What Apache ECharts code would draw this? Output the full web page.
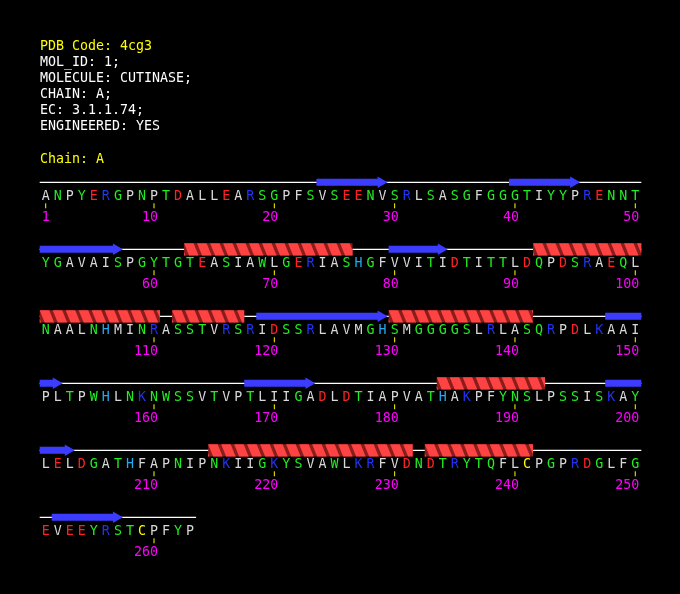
<!DOCTYPE html>
<html>
<head>
<meta charset="utf-8">
<script src="https://cdn.jsdelivr.net/npm/echarts@6/dist/echarts.min.js"></script>
<style>html,body{margin:0;padding:0;background:#000;}#c{width:680px;height:594px;}</style>
</head>
<body>
<div id="c"></div>
<script>
// ---- data ----
const headerLines = ["PDB Code: 4cg3", "MOL_ID: 1;", "MOLECULE: CUTINASE;", "CHAIN: A;", "EC: 3.1.1.74;", "ENGINEERED: YES", "", "Chain: A"];
const sequence = "ANPYERGPNPTDALLEARSGPFSVSEENVSRLSASGFGGGTIYYPRENNT" +
                 "YGAVAISPGYTGTEASIAWLGERIASHGFVVITIDTITTLDQPDSRAEQL" +
                 "NAALNHMINRASSTVRSRIDSSRLAVMGHSMGGGGSLRLASQRPDLKAAI" +
                 "PLTPWHLNKNWSSVTVPTLIIGADLDTIAPVATHAKPFYNSLPSSISKAY" +
                 "LELDGATHFAPNIPNKIIGKYSVAWLKRFVDNDTRYTQFLCPGPRDGLFG" +
                 "EVEEYRSTCPFYP";
const helices = [[63,76],[92,110],[112,117],[130,141],[184,192],[215,231],[233,241]];
const strands = [[24,29],[40,45],[51,57],[80,84],[119,129],[148,152],[168,173],[198,203],[252,257]];
const perRow = 50;

// ---- styles ----
const FONT = '13.3px "DejaVu Sans Mono", monospace';
const colorOf = ch => {
  if ('DE'.includes(ch)) return '#ff2222';
  if ('RK'.includes(ch)) return '#2233ee';
  if (ch === 'H') return '#22aaee';
  if (ch === 'C') return '#ffff00';
  if ('GSTNQYW'.includes(ch)) return '#22ee22';
  return '#d8d8d8';
};

const N = sequence.length;
const nRows = Math.ceil(N / perRow);
function splitByRow(s, e) {
  const segs = [];
  for (let r = 0; r < nRows; r++) {
    const rs = r * perRow + 1, re = Math.min(r * perRow + perRow, N);
    const a = Math.max(s, rs), b = Math.min(e, re);
    if (a <= b) segs.push([a - r * perRow, b - r * perRow, r, b === e ? 1 : 0]);
  }
  return segs;
}
const coilData = [];
for (let r = 0; r < nRows; r++) coilData.push([1, r, Math.min(perRow, N - r * perRow)]);
const strandData = [], helixData = [];
strands.forEach(([s, e]) => splitByRow(s, e).forEach(g => strandData.push([g[0], g[2], g[1], g[3]])));
helices.forEach(([s, e]) => splitByRow(s, e).forEach(g => helixData.push([g[0], g[2], g[1]])));
const resData = [];
for (let i = 0; i < N; i++) resData.push([(i % perRow) + 1, Math.floor(i / perRow), i]);

function clipPoly(pts, xmin, xmax) {
  function clip(p, inside, inter) {
    const out = [];
    for (let i = 0; i < p.length; i++) {
      const A = p[i], B = p[(i + 1) % p.length];
      const ai = inside(A), bi = inside(B);
      if (ai) out.push(A);
      if (ai !== bi) out.push(inter(A, B));
    }
    return out;
  }
  const ix = x => (A, B) => [x, A[1] + (B[1] - A[1]) * (x - A[0]) / (B[0] - A[0])];
  let p = clip(pts, q => q[0] >= xmin, ix(xmin));
  if (p.length) p = clip(p, q => q[0] <= xmax, ix(xmax));
  return p;
}

const chart = echarts.init(document.getElementById('c'), null, {renderer: 'canvas'});
const option = {
  backgroundColor: '#000000',
  animation: false,
  grid: {left: 39.7, right: 38.7, top: 182.3, bottom: 76.7},
  xAxis: {type: 'value', min: 0.5, max: perRow + 0.5, show: false},
  yAxis: {type: 'value', min: 0, max: nRows - 1, inverse: true, show: false},
  graphic: headerLines.map((t, i) => ({
    type: 'text', left: 40, top: 48 + i * 16.1 - 8, silent: true,
    style: {text: t, fill: (i === 0 || i === headerLines.length - 1) ? '#ffff00' : '#ffffff', font: FONT}
  })),
  series: [
    { // coil line
      type: 'custom', silent: true, clip: false, data: coilData, encode: {x: 0, y: 1},
      renderItem: (p, api) => {
        const a = api.coord([api.value(0) - 0.5, api.value(1)]);
        const b = api.coord([api.value(2) + 0.5, api.value(1)]);
        return {type: 'line', shape: {x1: a[0], y1: a[1], x2: b[0], y2: b[1]}, style: {stroke: '#ffffff', lineWidth: 1.3}};
      }
    },
    { // strands
      type: 'custom', silent: true, clip: false, data: strandData, encode: {x: 0, y: 1},
      renderItem: (p, api) => {
        const a = api.coord([api.value(0) - 0.5, api.value(1)]);
        const b = api.coord([api.value(2) + 0.5, api.value(1)]);
        const y = a[1], x0 = a[0];
        let pts;
        if (api.value(3)) {
          const x1 = b[0] - 1, h = x1 - 10;
          pts = [[x0, y - 3.5], [h, y - 3.5], [h, y - 5.8], [x1, y], [h, y + 5.8], [h, y + 3.5], [x0, y + 3.5]];
        } else {
          const x1 = b[0];
          pts = [[x0, y - 3.5], [x1, y - 3.5], [x1, y + 3.5], [x0, y + 3.5]];
        }
        return {type: 'polygon', shape: {points: pts}, style: {fill: '#3c3cff'}};
      }
    },
    { // helices
      type: 'custom', silent: true, clip: false, data: helixData, encode: {x: 0, y: 1},
      renderItem: (p, api) => {
        const a = api.coord([api.value(0) - 0.5, api.value(1)]);
        const b = api.coord([api.value(2) + 0.5, api.value(1)]);
        const y = a[1], xs = a[0], xe = b[0], top = y - 6, bot = y + 6.3;
        const children = [{type: 'rect', shape: {x: xs, y: top, width: xe - xs, height: bot - top}, style: {fill: '#8a1c1c'}}];
        const period = 13, w = 9.5, slant = 5;
        for (let x = xs - period; x < xe + period; x += period) {
          const poly = clipPoly([[x, top], [x + w, top], [x + w + slant, bot], [x + slant, bot]], xs, xe);
          if (poly.length >= 3) children.push({type: 'polygon', shape: {points: poly}, style: {fill: '#ff4242'}});
        }
        return {type: 'group', children};
      }
    },
    { // residues, ticks, numbers
      type: 'custom', silent: true, clip: false, data: resData, encode: {x: 0, y: 1},
      renderItem: (p, api) => {
        const c = api.coord([api.value(0), api.value(1)]);
        const idx = api.value(2), ch = sequence[idx], num = idx + 1;
        const children = [{type: 'text', x: c[0], y: c[1] + 13.8,
          style: {text: ch, fill: colorOf(ch), font: FONT, align: 'center', verticalAlign: 'middle'}}];
        if (num === 1 || num % 10 === 0) {
          children.push({type: 'line', shape: {x1: c[0], y1: c[1] + 21, x2: c[0], y2: c[1] + 26}, style: {stroke: '#ffff00', lineWidth: 1}});
          children.push({type: 'text', x: c[0] + 4, y: c[1] + 35,
            style: {text: String(num), fill: '#ff00ff', font: FONT, align: 'right', verticalAlign: 'middle'}});
        }
        return {type: 'group', children};
      }
    }
  ]
};
chart.setOption(option);
</script>
</body>
</html>
